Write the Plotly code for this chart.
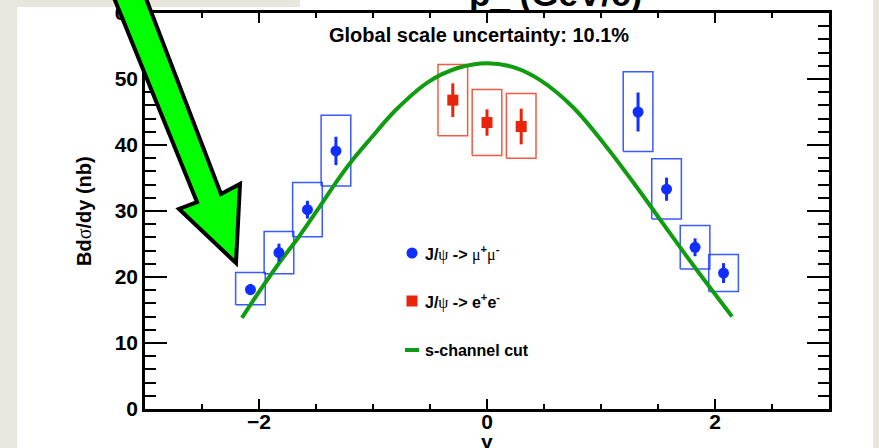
import plotly.graph_objects as go

# J/psi -> mu+ mu- : rapidity, yield, stat. error, systematic band
mu_rap = [-2.075, -1.825, -1.575, -1.325, 1.325, 1.575, 1.825, 2.075]
mu_val = [18.1, 23.7, 30.2, 39.1, 45.0, 33.3, 24.5, 20.6]
mu_stat = [0.85, 1.35, 1.35, 2.15, 2.95, 1.75, 1.35, 1.5]
mu_sys_lo = [15.8, 20.5, 26.1, 33.8, 39.0, 28.8, 21.2, 17.8]
mu_sys_hi = [20.7, 26.9, 34.3, 44.5, 51.1, 37.9, 27.8, 23.4]

# J/psi -> e+ e- : rapidity, yield, stat. error, systematic band
ee_rap = [-0.3, 0.0, 0.3]
ee_val = [46.8, 43.4, 42.8]
ee_stat = [2.55, 2.0, 2.7]
ee_sys_lo = [41.4, 38.4, 38.0]
ee_sys_hi = [52.2, 48.4, 47.8]

# s-channel cut model curve
curve_rap = [-2.15, -1.97, -1.82, -1.65, -1.47, -1.33, -1.19, -1.03, -0.80, -0.51,
             -0.25, 0.0, 0.25, 0.46, 0.75, 1.04, 1.34, 1.51, 1.69, 1.86, 2.15]
curve_val = [13.8, 18.5, 22.2, 26.1, 30.6, 34.2, 37.5, 40.8, 45.3, 49.6,
             51.7, 52.4, 51.7, 49.9, 45.8, 39.9, 33.0, 28.9, 24.6, 20.6, 14.0]

x_tick_vals = [-2, 0, 2]
y_tick_vals = [0, 10, 20, 30, 40, 50, 60]

# ---- layout geometry (pixels) ----
W, H = 879, 448
ML, MR, MT, MB = 145, 50, 13, 39
PW, PH = W - ML - MR, H - MT - MB


def px_x(px):
    return (px - ML) / PW


def px_y(py):
    return (H - MB - py) / PH


BOX_HALF = 0.13
BLUE = "#0F2EFF"
RED = "#E8240A"
GREEN = "#109C10"
FONT = "Liberation Sans, Arial, Helvetica, sans-serif"
SYM = "font-family:Liberation Serif;font-weight:normal"


def box_outline(xs, lo, hi, hw):
    bx, by = [], []
    for x, l, h in zip(xs, lo, hi):
        bx += [x - hw, x + hw, x + hw, x - hw, x - hw, None]
        by += [l, l, h, h, l, None]
    return bx, by


fig = go.Figure()

# systematic boxes
bx, by = box_outline(mu_rap, mu_sys_lo, mu_sys_hi, BOX_HALF)
fig.add_trace(go.Scatter(x=bx, y=by, mode="lines", showlegend=False,
                         line=dict(color="rgba(25,60,255,0.85)", width=1.5),
                         hoverinfo="skip"))
bx, by = box_outline(ee_rap, ee_sys_lo, ee_sys_hi, BOX_HALF)
fig.add_trace(go.Scatter(x=bx, y=by, mode="lines", showlegend=False,
                         line=dict(color="rgba(235,50,25,0.8)", width=1.5),
                         hoverinfo="skip"))

# model curve
fig.add_trace(go.Scatter(x=curve_rap, y=curve_val, mode="lines", showlegend=False,
                         line=dict(color=GREEN, width=4, shape="spline", smoothing=1.0)))

# data points with statistical errors
fig.add_trace(go.Scatter(x=mu_rap, y=mu_val, mode="markers", showlegend=False,
                         marker=dict(symbol="circle", size=11, color=BLUE),
                         error_y=dict(type="data", array=mu_stat, color=BLUE,
                                      thickness=3, width=0)))
fig.add_trace(go.Scatter(x=ee_rap, y=ee_val, mode="markers", showlegend=False,
                         marker=dict(symbol="square", size=11, color=RED),
                         error_y=dict(type="data", array=ee_stat, color=RED,
                                      thickness=3, width=0)))

# legend glyphs on an overlay axis spanning the plot area
LEG_X = px_x(412)
LEG_ROWS = [px_y(253), px_y(301), px_y(350)]
fig.add_trace(go.Scatter(x=[LEG_X], y=[LEG_ROWS[0]], xaxis="x2", yaxis="y2",
                         mode="markers", showlegend=False,
                         marker=dict(symbol="circle", size=11, color=BLUE)))
fig.add_trace(go.Scatter(x=[LEG_X], y=[LEG_ROWS[1]], xaxis="x2", yaxis="y2",
                         mode="markers", showlegend=False,
                         marker=dict(symbol="square", size=11, color=RED)))
fig.add_trace(go.Scatter(x=[px_x(405), px_x(419)], y=[LEG_ROWS[2]] * 2,
                         xaxis="x2", yaxis="y2", mode="lines", showlegend=False,
                         line=dict(color=GREEN, width=4)))

leg_texts = [
    f"J/<span style='{SYM}'>ψ</span> -> <span style='{SYM}'>μ</span><sup>+</sup><span style='{SYM}'>μ</span><sup>-</sup>",
    f"J/<span style='{SYM}'>ψ</span> -> e<sup>+</sup>e<sup>-</sup>",
    "s-channel cut",
]

annotations = []
for txt, yy in zip(leg_texts, LEG_ROWS):
    annotations.append(dict(text=txt, x=px_x(423), y=yy, xref="paper", yref="paper",
                            xanchor="left", yanchor="middle", showarrow=False,
                            font=dict(family=FONT, size=16, color="black", weight="bold")))

annotations += [
    dict(text="Global scale uncertainty: 10.1%", x=px_x(479), y=px_y(35),
         xref="paper", yref="paper", xanchor="center", yanchor="middle",
         showarrow=False, font=dict(family=FONT, size=20, color="black", weight="bold")),
    dict(text="p_ (GeV/c)", x=px_x(555), y=px_y(-6), xref="paper", yref="paper",
         xanchor="center", yanchor="middle", showarrow=False,
         font=dict(family=FONT, size=35, color="black", weight="bold")),
    dict(text=f"Bd<span style='{SYM}'>σ</span>/dy (nb)", x=px_x(84), y=px_y(211),
         xref="paper", yref="paper", xanchor="center", yanchor="middle",
         textangle=-90, showarrow=False,
         font=dict(family=FONT, size=20, color="black", weight="bold")),
    dict(text="y", x=px_x(487), y=px_y(442), xref="paper", yref="paper",
         xanchor="center", yanchor="middle", showarrow=False,
         font=dict(family=FONT, size=21, color="black", weight="bold")),
]

# slide panel behind the chart and the pointer arrow on top
ARROW_PX = [(110, -12), (197, 202), (179, 209), (236, 263), (240, 184), (221, 194), (142, -12)]
arrow_path = "M " + " L ".join(f"{px_x(a)},{px_y(b)}" for a, b in ARROW_PX) + " Z"

shapes = [
    dict(type="rect", xref="paper", yref="paper", x0=px_x(17), x1=px_x(873),
         y0=px_y(7), y1=px_y(460), fillcolor="white", line=dict(width=0), layer="below"),
    dict(type="rect", xref="paper", yref="paper", x0=px_x(300), x1=px_x(873),
         y0=px_y(-5), y1=px_y(8), fillcolor="white", line=dict(width=0), layer="below"),
    dict(type="path", xref="paper", yref="paper", path=arrow_path,
         fillcolor="#00FF00", line=dict(color="black", width=4), layer="above"),
]

tickfont = dict(family=FONT, size=21, color="black", weight="bold")

fig.update_layout(
    width=W, height=H,
    margin=dict(l=ML, r=MR, t=MT, b=MB, autoexpand=False),
    paper_bgcolor="#E9E6DE",
    plot_bgcolor="white",
    showlegend=False,
    xaxis=dict(range=[-3, 3], tickvals=x_tick_vals, ticks="inside", ticklen=10,
               tickwidth=2, tickcolor="black", mirror="allticks", showline=True,
               linewidth=2.5, linecolor="black", showgrid=False, zeroline=False,
               tickfont=tickfont, ticklabelstandoff=-8,
               minor=dict(dtick=0.5, tick0=0, ticks="inside", ticklen=5,
                          tickwidth=2, tickcolor="black", showgrid=False)),
    yaxis=dict(range=[0, 60], tickvals=y_tick_vals, ticks="inside", ticklen=22,
               tickwidth=2, tickcolor="black", mirror="allticks", showline=True,
               linewidth=2.5, linecolor="black", showgrid=False, zeroline=False,
               tickfont=tickfont,
               minor=dict(dtick=2, tick0=0, ticks="inside", ticklen=11,
                          tickwidth=2, tickcolor="black", showgrid=False)),
    xaxis2=dict(range=[0, 1], overlaying="x", visible=False),
    yaxis2=dict(range=[0, 1], overlaying="y", visible=False),
    annotations=annotations,
    shapes=shapes,
)

fig.write_html("out.html")
